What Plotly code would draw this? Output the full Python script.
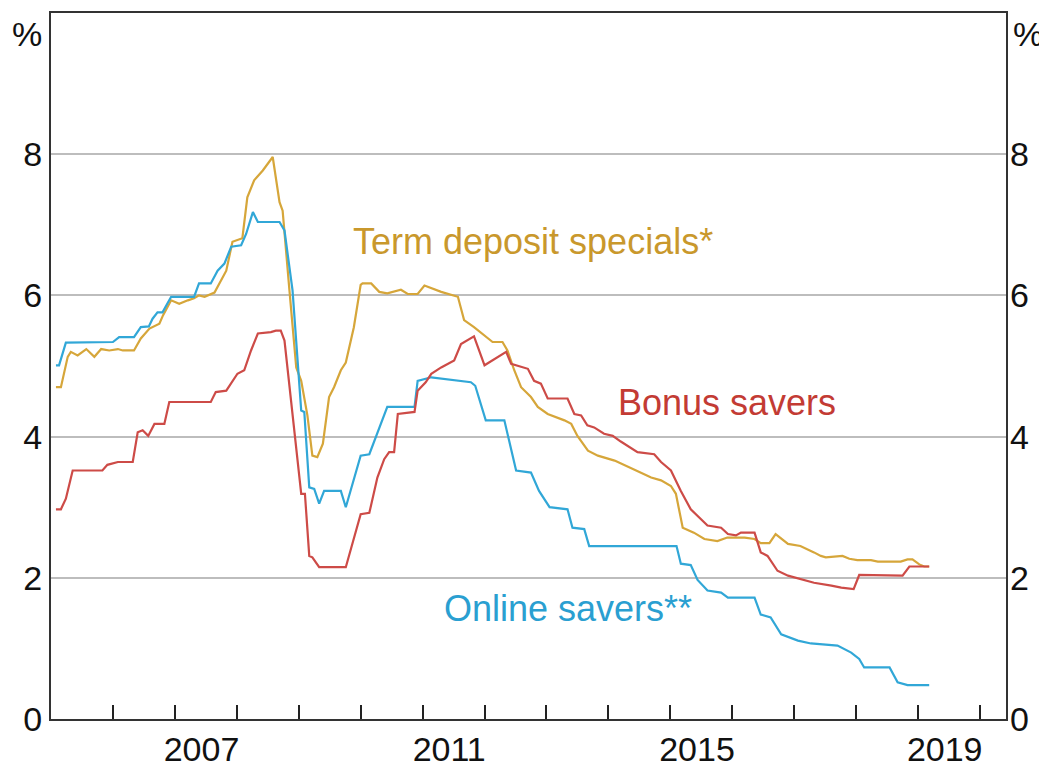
import plotly.graph_objects as go

# ---- data (time in decimal years, values in per cent) ----
term_t = [2005.08, 2005.16, 2005.27, 2005.32, 2005.43, 2005.57, 2005.70, 2005.81, 2005.94, 2006.08,
          2006.16, 2006.34, 2006.45, 2006.59, 2006.75, 2006.81, 2006.94, 2007.07, 2007.21, 2007.31,
          2007.39, 2007.48, 2007.64, 2007.75, 2007.83, 2007.93, 2008.09, 2008.17, 2008.28, 2008.42,
          2008.58, 2008.69, 2008.74, 2008.85, 2008.96, 2009.04, 2009.14, 2009.22, 2009.30, 2009.39,
          2009.49, 2009.57, 2009.68, 2009.76, 2009.89, 2010.00, 2010.03, 2010.17, 2010.30, 2010.43,
          2010.65, 2010.76, 2010.92, 2011.03, 2011.14, 2011.30, 2011.57, 2011.67, 2011.83, 2012.05,
          2012.13, 2012.29, 2012.37, 2012.48, 2012.59, 2012.75, 2012.86, 2013.02, 2013.29, 2013.40,
          2013.50, 2013.67, 2013.83, 2014.10, 2014.31, 2014.50, 2014.69, 2014.85, 2015.01, 2015.09,
          2015.20, 2015.30, 2015.38, 2015.55, 2015.76, 2015.92, 2016.20, 2016.36, 2016.46, 2016.60,
          2016.70, 2016.90, 2017.10, 2017.32, 2017.43, 2017.51, 2017.65, 2017.78, 2017.89, 2018.02,
          2018.24, 2018.35, 2018.72, 2018.83, 2018.91, 2019.02, 2019.10, 2019.18]
term_v = [4.70, 4.70, 5.13, 5.20, 5.15, 5.24, 5.13, 5.24, 5.22, 5.24,
          5.22, 5.22, 5.39, 5.53, 5.60, 5.72, 5.93, 5.88, 5.93, 5.96,
          6.00, 5.98, 6.04, 6.21, 6.35, 6.76, 6.81, 7.39, 7.63, 7.77,
          7.96, 7.32, 7.20, 6.07, 4.98, 4.79, 4.30, 3.73, 3.71, 3.90,
          4.56, 4.70, 4.94, 5.05, 5.55, 6.15, 6.17, 6.17, 6.05, 6.03,
          6.08, 6.02, 6.02, 6.14, 6.10, 6.05, 5.98, 5.65, 5.55, 5.39,
          5.34, 5.34, 5.22, 4.94, 4.70, 4.56, 4.42, 4.32, 4.23, 4.18,
          4.01, 3.80, 3.73, 3.66, 3.57, 3.50, 3.42, 3.38, 3.30, 3.19,
          2.71, 2.67, 2.64, 2.55, 2.52, 2.57, 2.57, 2.55, 2.49, 2.49,
          2.62, 2.48, 2.45, 2.36, 2.31, 2.29, 2.30, 2.31, 2.27, 2.25,
          2.25, 2.23, 2.23, 2.26, 2.26, 2.19, 2.16, 2.16]

bonus_t = [2005.08, 2005.16, 2005.24, 2005.35, 2005.83, 2005.91, 2006.08, 2006.32, 2006.40, 2006.48,
           2006.57, 2006.67, 2006.83, 2006.91, 2007.58, 2007.66, 2007.83, 2007.93, 2008.01, 2008.12,
           2008.23, 2008.34, 2008.55, 2008.63, 2008.71, 2008.77, 2008.93, 2009.04, 2009.10, 2009.17,
           2009.22, 2009.33, 2009.76, 2010.00, 2010.14, 2010.27, 2010.38, 2010.46, 2010.54, 2010.60,
           2010.87, 2010.92, 2011.05, 2011.14, 2011.30, 2011.51, 2011.62, 2011.83, 2012.00, 2012.35,
           2012.43, 2012.70, 2012.80, 2012.91, 2013.02, 2013.34, 2013.45, 2013.56, 2013.66, 2013.77,
           2013.93, 2014.07, 2014.20, 2014.37, 2014.47, 2014.74, 2014.85, 2015.01, 2015.17, 2015.33,
           2015.49, 2015.60, 2015.82, 2015.93, 2016.06, 2016.14, 2016.36, 2016.46, 2016.57, 2016.73,
           2016.90, 2017.10, 2017.32, 2017.60, 2017.76, 2017.96, 2018.01, 2018.05, 2018.75, 2018.86,
           2019.18]
bonus_v = [2.97, 2.97, 3.12, 3.52, 3.52, 3.60, 3.64, 3.64, 4.06, 4.09,
           4.01, 4.18, 4.18, 4.49, 4.49, 4.63, 4.65, 4.79, 4.89, 4.94,
           5.22, 5.46, 5.48, 5.50, 5.50, 5.36, 4.09, 3.19, 3.19, 2.31,
           2.29, 2.15, 2.15, 2.90, 2.92, 3.42, 3.68, 3.78, 3.78, 4.32,
           4.35, 4.65, 4.77, 4.89, 4.98, 5.08, 5.31, 5.42, 5.01, 5.20,
           5.03, 4.96, 4.79, 4.75, 4.54, 4.54, 4.32, 4.30, 4.16, 4.13,
           4.04, 4.01, 3.93, 3.83, 3.78, 3.75, 3.64, 3.52, 3.23, 2.97,
           2.83, 2.74, 2.71, 2.62, 2.60, 2.64, 2.64, 2.36, 2.31, 2.10,
           2.03, 1.98, 1.93, 1.89, 1.86, 1.84, 1.96, 2.04, 2.03, 2.16,
           2.16]

online_t = [2005.08, 2005.13, 2005.24, 2006.00, 2006.10, 2006.34, 2006.45, 2006.58, 2006.64, 2006.72,
            2006.80, 2006.94, 2007.31, 2007.39, 2007.58, 2007.69, 2007.80, 2007.91, 2008.07, 2008.15,
            2008.26, 2008.34, 2008.69, 2008.77, 2008.90, 2008.97, 2009.04, 2009.09, 2009.17, 2009.25,
            2009.33, 2009.41, 2009.68, 2009.76, 2010.00, 2010.14, 2010.43, 2010.87, 2010.92, 2011.14,
            2011.30, 2011.78, 2011.85, 2012.02, 2012.32, 2012.51, 2012.75, 2012.88, 2013.05, 2013.34,
            2013.42, 2013.61, 2013.69, 2015.10, 2015.17, 2015.33, 2015.44, 2015.60, 2015.82, 2015.93,
            2016.36, 2016.46, 2016.62, 2016.79, 2017.06, 2017.27, 2017.70, 2017.92, 2018.05, 2018.13,
            2018.54, 2018.67, 2018.83, 2019.18]
online_v = [5.01, 5.01, 5.33, 5.34, 5.41, 5.41, 5.55, 5.56, 5.67, 5.76,
            5.76, 5.98, 5.98, 6.17, 6.17, 6.35, 6.45, 6.69, 6.71, 6.87,
            7.18, 7.04, 7.04, 6.92, 6.07, 5.17, 4.37, 4.35, 3.28, 3.26,
            3.05, 3.23, 3.23, 3.00, 3.73, 3.75, 4.42, 4.42, 4.79, 4.84,
            4.82, 4.77, 4.72, 4.23, 4.23, 3.52, 3.49, 3.23, 3.00, 2.97,
            2.71, 2.69, 2.45, 2.45, 2.20, 2.18, 1.97, 1.82, 1.79, 1.72,
            1.72, 1.48, 1.44, 1.20, 1.11, 1.07, 1.04, 0.94, 0.85, 0.73,
            0.73, 0.52, 0.48, 0.48]

year_ticks = list(range(2006, 2021))
label_years = [2007, 2011, 2015, 2019]
y_ticks = [0, 2, 4, 6, 8]

# ---- styling ----
FONT = "Liberation Sans, Arial, sans-serif"
GOLD, GOLD_TXT = "#D6A63A", "#C9982C"
RED, RED_TXT = "#CD4B47", "#C33B34"
BLUE, BLUE_TXT = "#31A7D7", "#2A9FD1"
X_RANGE = [2005.0, 2020.42]
Y_RANGE = [0, 10]
TICK_SIZE = 34
LABEL_SIZE = 36

fig = go.Figure()
fig.add_trace(go.Scatter(x=term_t, y=term_v, mode="lines", line=dict(color=GOLD, width=2.2),
                         name="Term deposit specials*"))
fig.add_trace(go.Scatter(x=online_t, y=online_v, mode="lines", line=dict(color=BLUE, width=2.2),
                         name="Online savers**"))
fig.add_trace(go.Scatter(x=bonus_t, y=bonus_v, mode="lines", line=dict(color=RED, width=2.2),
                         name="Bonus savers"))
# invisible trace to activate secondary axes (label axis + right y axis)
fig.add_trace(go.Scatter(x=[X_RANGE[0]], y=[Y_RANGE[0]], xaxis="x2", yaxis="y2", mode="markers",
                         marker=dict(opacity=0), hoverinfo="skip", showlegend=False))

fig.update_layout(
    width=1039, height=760,
    margin=dict(l=43, r=41, t=5, b=49, autoexpand=False),
    paper_bgcolor="white", plot_bgcolor="white",
    showlegend=False,
    font=dict(family=FONT, size=TICK_SIZE, color="#111111"),
    xaxis=dict(range=X_RANGE, tickmode="array", tickvals=year_ticks, showticklabels=False,
               ticks="inside", ticklen=14, tickwidth=1.5, tickcolor="#222222",
               showline=True, linecolor="#333333", linewidth=2, mirror=True,
               showgrid=False, zeroline=False, automargin=False),
    xaxis2=dict(range=X_RANGE, overlaying="x", anchor="y", side="bottom",
                tickmode="array", tickvals=[y + 0.43 for y in label_years],
                ticktext=[str(y) for y in label_years], ticks="", showline=False,
                showgrid=False, zeroline=False, ticklabelstandoff=7, automargin=False,
                tickfont=dict(size=TICK_SIZE, color="#111111")),
    yaxis=dict(range=Y_RANGE, tickmode="array", tickvals=y_ticks, ticks="",
               showgrid=True, gridcolor="#BDBDBD", gridwidth=1.5,
               showline=True, linecolor="#333333", linewidth=2, mirror=True,
               zeroline=False, automargin=False, tickfont=dict(size=TICK_SIZE, color="#111111")),
    yaxis2=dict(range=Y_RANGE, overlaying="y", side="right", anchor="x",
                tickmode="array", tickvals=y_ticks, ticks="", showgrid=False,
                showline=False, zeroline=False, ticklabelstandoff=3, automargin=False,
                tickfont=dict(size=TICK_SIZE, color="#111111")),
)

annotations = [
    dict(text="%", xref="paper", yref="paper", x=0, y=1, xanchor="right", yanchor="top",
         xshift=-7, showarrow=False, font=dict(size=TICK_SIZE, color="#111111")),
    dict(text="%", xref="paper", yref="paper", x=1, y=1, xanchor="left", yanchor="top",
         xshift=5, showarrow=False, font=dict(size=TICK_SIZE, color="#111111")),
    dict(text="Term deposit specials*", x=2012.78, y=6.76, xref="x", yref="y",
         showarrow=False, font=dict(size=LABEL_SIZE, color=GOLD_TXT)),
    dict(text="Bonus savers", x=2015.92, y=4.48, xref="x", yref="y",
         showarrow=False, font=dict(size=LABEL_SIZE, color=RED_TXT)),
    dict(text="Online savers**", x=2013.35, y=1.57, xref="x", yref="y",
         showarrow=False, font=dict(size=LABEL_SIZE, color=BLUE_TXT)),
]
fig.update_layout(annotations=annotations)

fig.write_html("out.html")
